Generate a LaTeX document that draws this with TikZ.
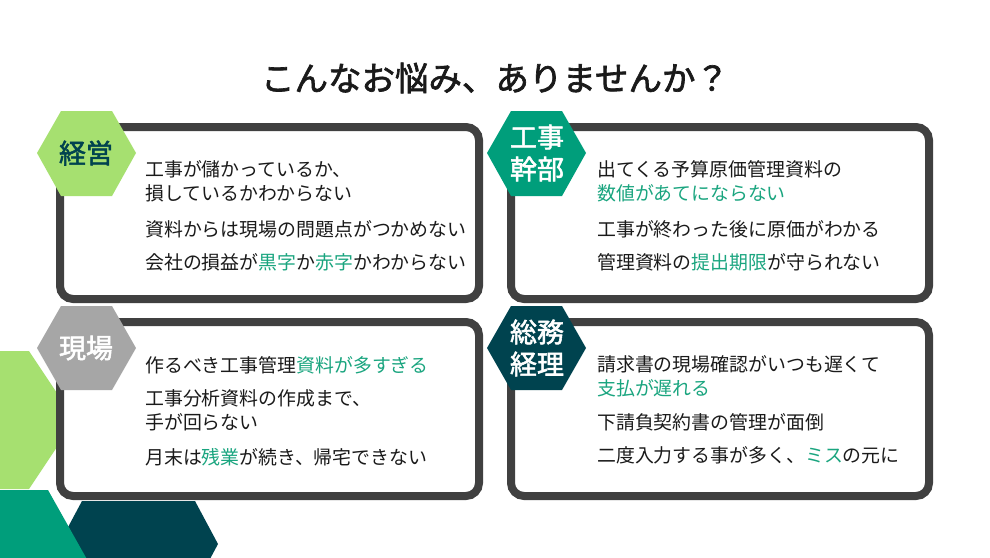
\documentclass[tikz,border=0pt]{standalone}
\usepackage{fontspec}
\setmainfont{Noto Sans CJK JP}
\newfontfamily\jpb{Noto Sans CJK JP}[FakeBold=2]
\definecolor{lgreen}{HTML}{A6E070}
\definecolor{teal}{HTML}{009E7B}
\definecolor{dteal}{HTML}{00434F}
\definecolor{hgray}{HTML}{A6A6A6}
\definecolor{bord}{HTML}{404040}
\definecolor{hl}{HTML}{1AA57F}
\definecolor{txt}{HTML}{1A1A1A}
\newcommand{\hlt}[1]{\textcolor{hl}{#1}}
\begin{document}
\begin{tikzpicture}[x=1pt,y=-1pt,
  panel/.style={draw=bord,line width=8pt,fill=white,rounded corners=13pt},
  item/.style={anchor=west,inner sep=0pt,text=txt,font=\fontsize{18.9}{24}\selectfont,align=left},
  hexlab/.style={font=\jpb\fontsize{27}{30}\selectfont,align=center,inner sep=0pt}]
\useasboundingbox (0,0) rectangle (990,557);
\fill[white] (0,0) rectangle (990,557);
% decorative hexagons
\fill[lgreen] (0,351) -- (29,351) -- (75,420) -- (29,489) -- (0,489) -- cycle;
\fill[dteal] (82,501) -- (195,501) -- (218,544) -- (195,587) -- (82,587) -- (59,544) -- cycle;
\fill[teal] (0,490) -- (48,490) -- (93,570) -- (0,570) -- cycle;
% title
\node[font=\jpb\fontsize{33.5}{38}\selectfont,text=txt] (title) at (495,78) {こんなお悩み、ありませんか？};
% panels
\draw[panel] (60,127) rectangle (479,299);
\draw[panel] (511,127) rectangle (929,299);
\draw[panel] (60,322) rectangle (479,496);
\draw[panel] (511,322) rectangle (929,496);
% hexagons
\fill[lgreen] (37,153) -- (61,111) -- (112,111) -- (136,153) -- (112,196) -- (61,196) -- cycle;
\node[hexlab,text=dteal] (h1) at (86,153) {経営};
\fill[teal] (487,153) -- (511,111) -- (562,111) -- (586,153) -- (562,196) -- (511,196) -- cycle;
\node[hexlab,text=white,font=\jpb\fontsize{27}{32}\selectfont] (h2) at (537,153) {工事\\幹部};
\fill[hgray] (37,348) -- (61,306) -- (112,306) -- (136,348) -- (112,390) -- (61,390) -- cycle;
\node[hexlab,text=white] (h3) at (86,348) {現場};
\fill[dteal] (487,348) -- (511,306) -- (562,306) -- (586,348) -- (562,390) -- (511,390) -- cycle;
\node[hexlab,text=white,font=\jpb\fontsize{27}{32}\selectfont] (h4) at (537,348) {総務\\経理};
% texts top-left
\node[item] (a1) at (145,181) {工事が儲かっているか、\\損しているかわからない};
\node[item] (a2) at (145,229) {資料からは現場の問題点がつかめない};
\node[item] (a3) at (145,262) {会社の損益が\hlt{黒字}か\hlt{赤字}かわからない};
% top-right
\node[item] (b1) at (597,181) {出てくる予算原価管理資料の\\\hlt{数値があてにならない}};
\node[item] (b2) at (597,229) {工事が終わった後に原価がわかる};
\node[item] (b3) at (597,262) {管理資料の\hlt{提出期限}が守られない};
% bottom-left
\node[item] (c1) at (145,365) {作るべき工事管理\hlt{資料が多すぎる}};
\node[item] (c2) at (145,410) {工事分析資料の作成まで、\\手が回らない};
\node[item] (c3) at (145,457) {月末は\hlt{残業}が続き、帰宅できない};
% bottom-right
\node[item] (d1) at (597,376) {請求書の現場確認がいつも遅くて\\\hlt{支払が遅れる}};
\node[item] (d2) at (597,422) {下請負契約書の管理が面倒};
\node[item] (d3) at (597,455) {二度入力する事が多く、\hlt{ミス}の元に};
\end{tikzpicture}
\end{document}
